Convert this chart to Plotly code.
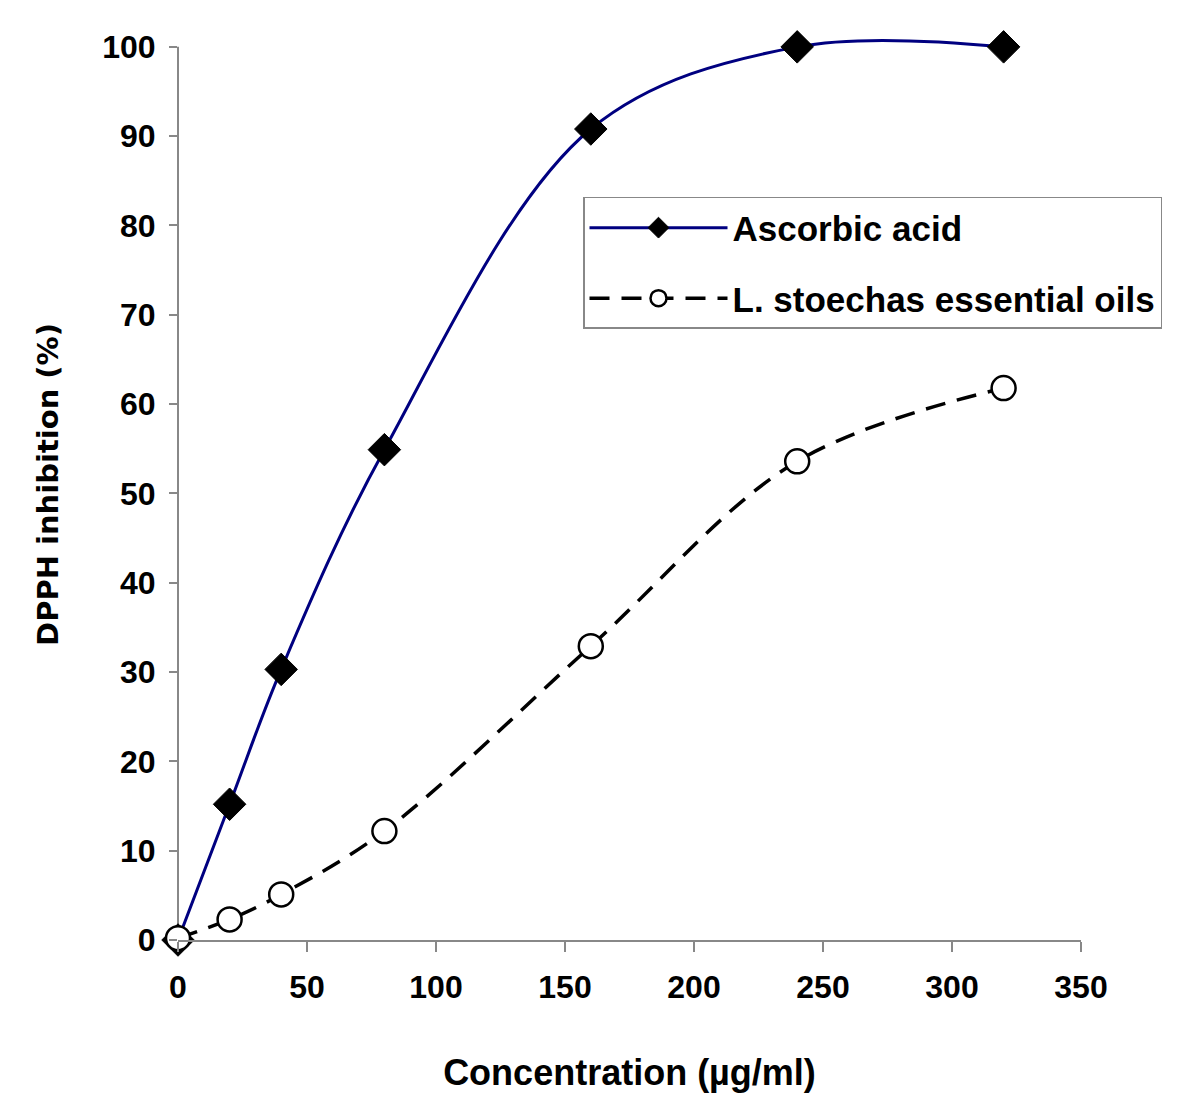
import plotly.graph_objects as go

concentration = [0, 20, 40, 80, 160, 240, 320]
ascorbic_acid = [0, 15.2, 30.3, 54.9, 90.8, 100, 100]
stoechas_oils = [0.2, 2.3, 5.1, 12.2, 32.9, 53.6, 61.8]

x_ticks = [0, 50, 100, 150, 200, 250, 300, 350]
y_ticks = [0, 10, 20, 30, 40, 50, 60, 70, 80, 90, 100]

FONT = "Liberation Sans, Arial, sans-serif"
FONT_Y = "DejaVu Sans, Verdana, sans-serif"
AXIS_GRAY = "#888888"

Y_TOP = 102  # small headroom so the smoothed curve is not clipped at 100

fig = go.Figure()
fig.add_trace(go.Scatter(
    x=concentration, y=ascorbic_acid, name="Ascorbic acid", legendgroup="a",
    mode="lines+markers",
    line=dict(color="#000080", width=3, shape="spline", smoothing=1),
    marker=dict(symbol="diamond", size=25, color="black", line=dict(color="black", width=1)),
    cliponaxis=False,
))
fig.add_trace(go.Scatter(
    x=concentration, y=stoechas_oils, name="L. stoechas essential oils", legendgroup="b",
    mode="lines+markers",
    line=dict(color="black", width=3.5, dash="20px,12px", shape="spline", smoothing=1),
    marker=dict(symbol="circle", size=24, color="white", line=dict(color="black", width=2.5)),
    cliponaxis=False,
))

# y axis line only up to 100 (as in the reference)
fig.add_shape(type="line", xref="paper", yref="y", x0=0, x1=0, y0=0, y1=100,
              line=dict(color=AXIS_GRAY, width=2), layer="below")

fig.update_layout(
    width=1200, height=1118,
    margin=dict(l=170, r=127, t=21, b=186),
    paper_bgcolor="white", plot_bgcolor="white",
    font=dict(family=FONT, size=26, color="black", weight="bold"),
    legend=dict(
        x=(583 - 178) / 903, y=(940 - 197) / (893 * Y_TOP / 100), xanchor="left", yanchor="top",
        bordercolor=AXIS_GRAY, borderwidth=1.5, bgcolor="white",
        font=dict(family=FONT, size=35, color="black", weight="bold"),
        tracegroupgap=22, itemwidth=138,
    ),
    showlegend=True,
)
fig.update_xaxes(
    range=[0, 350], tickvals=x_ticks, ticktext=[str(v) for v in x_ticks],
    showgrid=False, zeroline=False, showline=True, linecolor=AXIS_GRAY, linewidth=2,
    ticks="outside", ticklen=10, tickcolor=AXIS_GRAY, tickwidth=1.5, ticklabelstandoff=8,
    tickfont=dict(family=FONT, size=32, color="black", weight="bold"),
    title=dict(text="Concentration (µg/ml)", standoff=55,
               font=dict(family=FONT, size=36, color="black", weight="bold")),
)
fig.update_yaxes(
    range=[0, Y_TOP], tickvals=y_ticks, ticktext=[str(v) for v in y_ticks],
    showgrid=False, zeroline=False, showline=False,
    ticks="outside", ticklen=8, tickcolor=AXIS_GRAY, tickwidth=1.5, ticklabelstandoff=7,
    tickfont=dict(family=FONT, size=32, color="black", weight="bold"),
    title=dict(text="DPPH inhibition (%)", standoff=35,
               font=dict(family=FONT_Y, size=29, color="black", weight="bold")),
)

fig.write_html("out.html")
